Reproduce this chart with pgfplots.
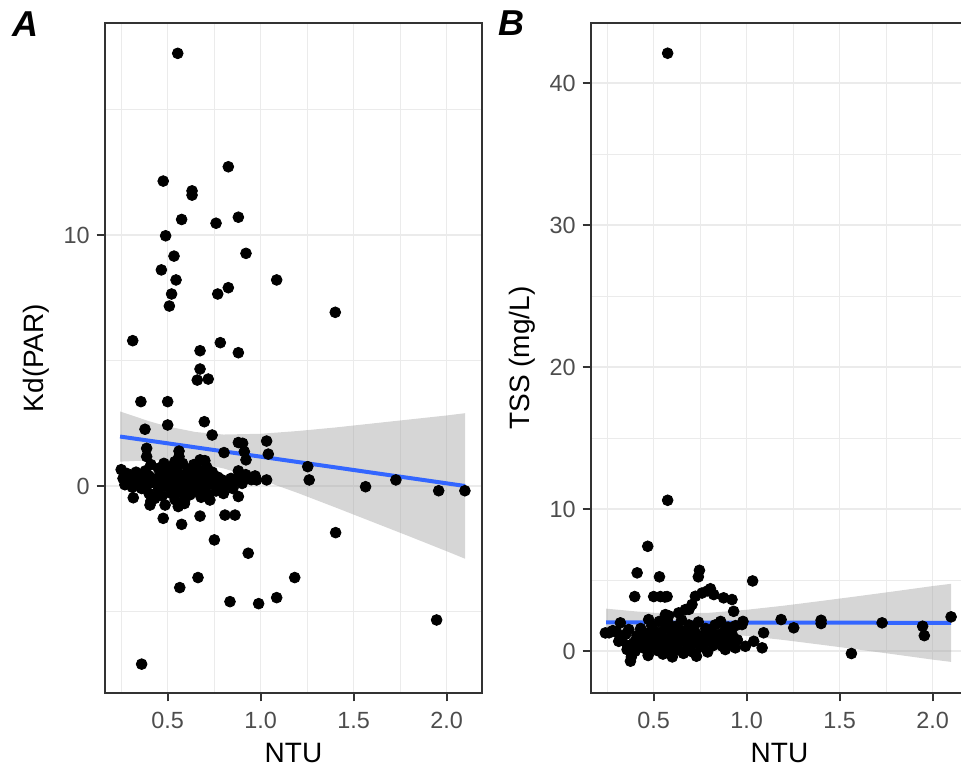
\documentclass[border=0pt]{standalone}
\usepackage{fontspec}
\setmainfont{Liberation Sans}
\usepackage{pgfplots}
\pgfplotsset{compat=1.18}

\definecolor{grid92}{HTML}{EBEBEB}
\definecolor{grey20}{HTML}{333333}
\definecolor{grey30}{HTML}{4D4D4D}
\definecolor{ribbon}{HTML}{999999}
\definecolor{fitblue}{HTML}{3366FF}

\pgfplotsset{
  panel/.style={
    scale only axis, width=188.5pt, height=335pt, anchor=south west,
    xmin=0.163, xmax=2.19,
    xtick={0.5,1,1.5,2}, xticklabels={0.5,1.0,1.5,2.0},
    minor xtick={0.25,0.75,1.25,1.75},
    grid=both,
    major grid style={color=grid92, line width=0.75pt},
    minor grid style={color=grid92, line width=0.4pt},
    axis line style={color=grey20, line width=1pt},
    tick align=outside, major tick length=4.2pt, minor tick length=0pt,
    tick style={color=grey20, line width=1pt},
    xtick pos=bottom, ytick pos=left,
    ticklabel style={font=\fontsize{11.7}{13}\selectfont, color=grey30},
    label style={font=\fontsize{14}{16}\selectfont, color=black},
    xticklabel shift=2pt,
    xlabel={NTU},
  },
  pts/.style={only marks, mark=*, mark size=2.7pt, black},
  band/.style={draw=none, fill=ribbon, fill opacity=0.4},
  fit/.style={fitblue, line width=2pt, no marks},
}

\begin{document}
\begin{tikzpicture}
\path[use as bounding box] (0pt,0pt) rectangle (480.5pt,387pt);

% ---------------- Panel A: Kd(PAR) against NTU ----------------
\begin{axis}[panel, name=panelA, at={(52.5pt,40.5pt)},
  ymin=-8.25, ymax=18.45,
  ytick={0,10}, yticklabels={0,10}, minor ytick={-5,5,15},
  ylabel={Kd(PAR)}]
\addplot[pts] table {
x y
0.554 17.24
0.826 12.72
0.476 12.15
0.631 11.76
0.631 11.59
0.575 10.62
0.760 10.47
0.880 10.71
0.489 9.97
0.534 9.16
0.921 9.27
0.466 8.61
0.545 8.21
1.086 8.21
0.521 7.65
0.769 7.65
0.826 7.90
0.509 7.17
1.401 6.92
0.312 5.79
0.783 5.71
0.674 5.39
0.880 5.31
0.674 4.66
0.659 4.22
0.718 4.26
0.356 3.36
0.500 3.36
0.697 2.56
0.500 2.43
0.378 2.26
0.739 2.03
0.880 1.73
0.903 1.70
1.032 1.79
0.387 1.50
0.387 1.17
0.561 1.39
0.561 1.17
0.539 0.97
0.912 1.37
0.921 1.04
1.041 1.27
0.674 1.04
0.700 1.01
0.803 1.33
0.978 0.24
1.032 0.24
0.950 0.30
1.253 0.77
1.261 0.24
1.564 -0.03
1.727 0.24
1.957 -0.19
2.098 -0.19
0.315 -0.47
0.405 -0.76
0.410 -0.60
0.486 -0.76
0.476 -1.29
0.575 -1.53
0.674 -1.20
0.557 -0.82
0.590 -0.70
0.727 -0.56
0.808 -1.16
0.862 -1.16
0.880 -0.42
0.751 -2.15
0.933 -2.68
1.403 -1.86
0.663 -3.65
0.565 -4.05
1.183 -3.65
0.835 -4.61
0.989 -4.69
1.086 -4.45
1.946 -5.34
0.360 -7.10
0.25 0.65
0.26 0.30
0.27 0.05
0.28 0.50
0.29 0.20
0.30 0.40
0.31 -0.05
0.32 0.25
0.33 0.55
0.34 0.10
0.35 0.35
0.36 -0.10
0.37 0.20
0.38 0.60
0.39 0.05
0.40 0.40
0.40 -0.30
0.41 0.85
0.42 0.15
0.43 -0.50
0.44 0.30
0.45 0.70
0.45 -0.15
0.46 0.10
0.47 0.50
0.47 -0.40
0.48 0.90
0.49 0.25
0.50 -0.05
0.50 0.60
0.51 0.15
0.52 0.40
0.52 -0.30
0.53 0.80
0.53 0.05
0.54 -0.55
0.55 0.30
0.55 0.60
0.56 0.00
0.57 -0.25
0.57 0.45
0.58 0.15
0.58 0.90
0.59 -0.60
0.60 0.35
0.60 -0.10
0.61 0.65
0.62 0.20
0.62 -0.35
0.63 0.50
0.64 0.05
0.64 0.85
0.65 -0.20
0.66 0.35
0.66 0.70
0.67 0.10
0.68 -0.45
0.68 0.55
0.69 0.20
0.70 -0.10
0.70 0.40
0.71 0.75
0.72 0.05
0.72 -0.35
0.73 0.30
0.74 0.55
0.75 0.10
0.76 -0.20
0.77 0.35
0.78 0.00
0.79 0.25
0.80 -0.30
0.81 0.15
0.82 0.05
0.84 0.30
0.85 -0.10
0.86 0.20
0.88 0.60
0.89 0.35
0.90 0.10
0.92 0.45
0.93 0.30
0.95 0.25
0.97 0.40
};
% 95% confidence ribbon of the linear fit
\addplot[band] coordinates {
(0.244,2.97) (0.4,2.58) (0.5,2.37) (0.65,2.15) (0.8,2.05) (1.0,2.08)
(1.2,2.19) (1.4,2.33) (1.6,2.49) (1.8,2.65) (2.0,2.81) (2.099,2.90)
(2.099,-2.90) (2.0,-2.60) (1.8,-2.01) (1.6,-1.43) (1.4,-0.85) (1.2,-0.28)
(1.0,0.25) (0.8,0.70) (0.65,0.93) (0.5,1.02) (0.4,1.02) (0.244,0.97)
} -- cycle;
\addplot[fit] coordinates {(0.244,1.97) (2.099,0.00)};
\end{axis}

% ---------------- Panel B: TSS against NTU ----------------
\begin{axis}[panel, name=panelB, at={(295.5pt,40.5pt)},
  ymin=-2.94, ymax=44.24,
  ytick={0,10,20,30,40}, yticklabels={0,10,20,30,40},
  minor ytick={5,15,25,35},
  ylabel={TSS (mg/L)}]
\addplot[pts] table {
x y
0.575 42.11
0.575 10.63
0.468 7.39
0.411 5.52
0.531 5.24
0.746 5.70
0.740 5.24
1.032 4.95
0.398 3.85
0.500 3.85
0.536 3.85
0.560 3.82
0.572 3.85
0.724 3.87
0.760 4.10
0.790 4.25
0.805 4.40
0.823 3.99
0.876 3.76
0.921 3.64
0.930 2.81
0.706 3.29
0.670 2.93
0.634 2.70
0.690 2.95
0.563 2.58
0.580 2.50
0.473 2.23
0.321 2.00
0.240 1.29
0.366 1.53
0.312 0.70
0.357 0.12
0.375 -0.70
0.400 0.70
0.885 0.12
0.939 0.24
0.993 0.35
1.038 0.70
1.083 0.24
1.091 1.30
0.975 1.88
0.980 2.10
1.185 2.23
1.253 1.65
1.400 2.18
1.400 1.95
1.728 2.00
1.946 1.76
1.955 1.10
2.099 2.42
1.563 -0.16
0.26 1.30
0.28 1.45
0.30 1.35
0.33 0.95
0.35 1.20
0.38 0.30
0.40 0.00
0.41 1.10
0.42 0.45
0.43 1.60
0.44 0.80
0.45 0.20
0.46 1.25
0.47 -0.30
0.48 0.60
0.49 1.80
0.50 0.95
0.50 0.30
0.51 1.40
0.52 0.05
0.53 0.70
0.53 2.10
0.54 1.15
0.55 -0.20
0.55 0.45
0.56 1.60
0.57 0.90
0.58 0.15
0.58 1.95
0.59 0.60
0.60 1.30
0.60 -0.40
0.61 0.35
0.62 1.00
0.62 1.75
0.63 0.10
0.64 0.65
0.65 1.45
0.65 2.20
0.66 -0.15
0.67 0.85
0.68 0.40
0.68 1.20
0.69 1.85
0.70 0.00
0.71 0.60
0.72 1.40
0.73 -0.35
0.73 0.95
0.74 2.05
0.75 0.30
0.76 1.10
0.77 0.55
0.78 1.60
0.79 -0.05
0.80 0.85
0.81 1.30
0.82 0.40
0.83 1.85
0.84 0.70
0.85 1.15
0.86 2.10
0.87 0.35
0.88 1.45
0.89 0.95
0.90 1.70
0.91 0.55
0.92 1.25
0.94 1.80
0.95 0.80
0.38 -0.40
0.39 0.55
0.36 0.40
};
\addplot[band] coordinates {
(0.244,3.00) (0.4,2.81) (0.5,2.71) (0.65,2.66) (0.8,2.71) (1.0,2.92)
(1.2,3.21) (1.4,3.54) (1.6,3.88) (1.8,4.23) (2.0,4.59) (2.099,4.75)
(2.099,-0.75) (2.0,-0.59) (1.8,-0.23) (1.6,0.12) (1.4,0.46) (1.2,0.79)
(1.0,1.08) (0.8,1.29) (0.65,1.34) (0.5,1.29) (0.4,1.20) (0.244,1.00)
} -- cycle;
\addplot[fit] coordinates {(0.244,2.03) (2.099,2.00)};
\end{axis}

% panel tags
\node[anchor=north west, inner sep=0pt, font=\bfseries\itshape\fontsize{18}{20}\selectfont] at (6pt,381.5pt) {A};
\node[anchor=north west, inner sep=0pt, font=\bfseries\itshape\fontsize{18}{20}\selectfont] at (249pt,382pt) {B};
\end{tikzpicture}
\end{document}
